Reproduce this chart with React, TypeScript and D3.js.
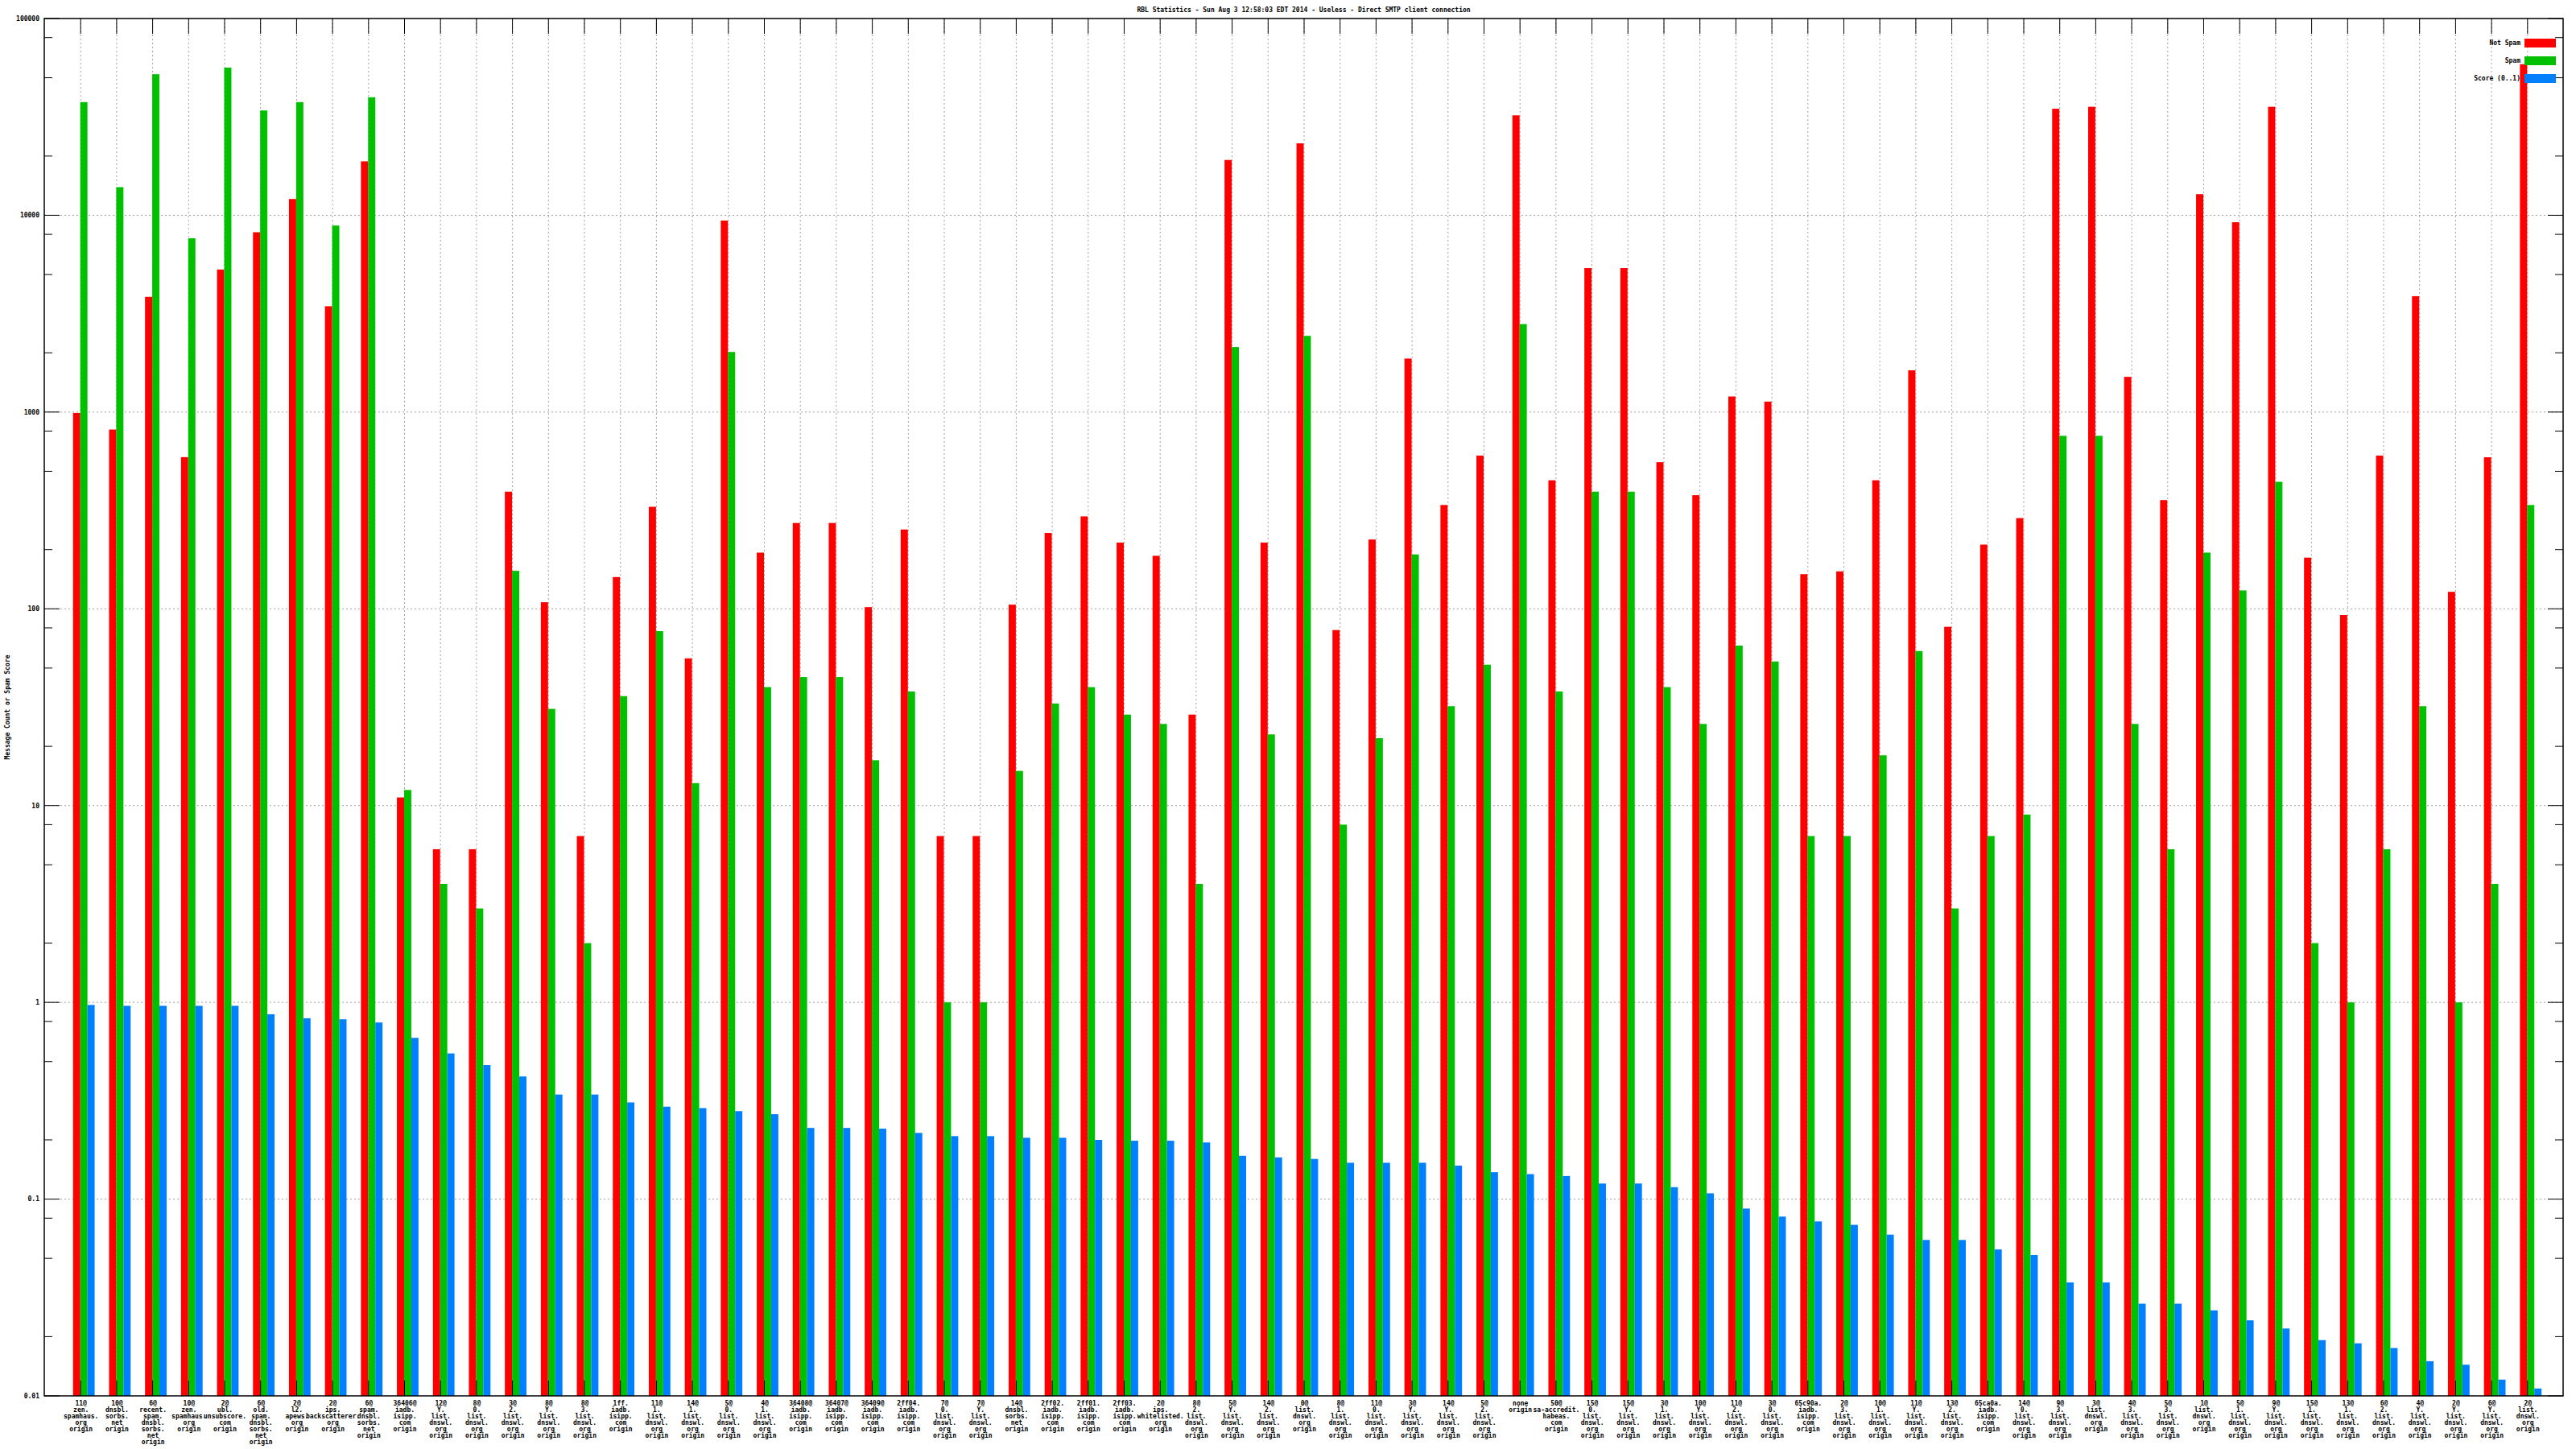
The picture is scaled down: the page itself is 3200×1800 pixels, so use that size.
import React from "react";
import * as d3 from "d3";

const TITLE = "RBL Statistics - Sun Aug  3 12:58:03 EDT 2014 - Useless - Direct SMTP client connection";
const Y_LABEL = "Message Count or Spam Score";
const SERIES = ["Not Spam", "Spam", "Score (0..1)"];
const COLORS = ["#ff0000", "#00c000", "#0080ff"];
const Y_TICKS = [0.01, 0.1, 1, 10, 100, 1000, 10000, 100000];
const Y_TICK_LABELS = ["0.01", "0.1", "1", "10", "100", "1000", "10000", "100000"];

const categories = [
  "11@\nzen.\nspamhaus.\norg\norigin",
  "10@\ndnsbl.\nsorbs.\nnet\norigin",
  "6@\nrecent.\nspam.\ndnsbl.\nsorbs.\nnet\norigin",
  "10@\nzen.\nspamhaus.\norg\norigin",
  "2@\nubl.\nunsubscore.\ncom\norigin",
  "6@\nold.\nspam.\ndnsbl.\nsorbs.\nnet\norigin",
  "2@\nl2.\napews.\norg\norigin",
  "2@\nips.\nbackscatterer.\norg\norigin",
  "6@\nspam.\ndnsbl.\nsorbs.\nnet\norigin",
  "36406@\niadb.\nisipp.\ncom\norigin",
  "12@\nY.\nlist.\ndnswl.\norg\norigin",
  "8@\n0.\nlist.\ndnswl.\norg\norigin",
  "3@\n2.\nlist.\ndnswl.\norg\norigin",
  "8@\nY.\nlist.\ndnswl.\norg\norigin",
  "8@\n3.\nlist.\ndnswl.\norg\norigin",
  "1ff.\niadb.\nisipp.\ncom\norigin",
  "11@\n1.\nlist.\ndnswl.\norg\norigin",
  "14@\n1.\nlist.\ndnswl.\norg\norigin",
  "5@\n0.\nlist.\ndnswl.\norg\norigin",
  "4@\n1.\nlist.\ndnswl.\norg\norigin",
  "36408@\niadb.\nisipp.\ncom\norigin",
  "36407@\niadb.\nisipp.\ncom\norigin",
  "36409@\niadb.\nisipp.\ncom\norigin",
  "2ff04.\niadb.\nisipp.\ncom\norigin",
  "7@\n0.\nlist.\ndnswl.\norg\norigin",
  "7@\nY.\nlist.\ndnswl.\norg\norigin",
  "14@\ndnsbl.\nsorbs.\nnet\norigin",
  "2ff02.\niadb.\nisipp.\ncom\norigin",
  "2ff01.\niadb.\nisipp.\ncom\norigin",
  "2ff03.\niadb.\nisipp.\ncom\norigin",
  "2@\nips.\nwhitelisted.\norg\norigin",
  "8@\n2.\nlist.\ndnswl.\norg\norigin",
  "5@\nY.\nlist.\ndnswl.\norg\norigin",
  "14@\n2.\nlist.\ndnswl.\norg\norigin",
  "0@\nlist.\ndnswl.\norg\norigin",
  "8@\n1.\nlist.\ndnswl.\norg\norigin",
  "11@\n0.\nlist.\ndnswl.\norg\norigin",
  "3@\nY.\nlist.\ndnswl.\norg\norigin",
  "14@\nY.\nlist.\ndnswl.\norg\norigin",
  "5@\n2.\nlist.\ndnswl.\norg\norigin",
  "none\norigin",
  "50@\nsa-accredit.\nhabeas.\ncom\norigin",
  "15@\n0.\nlist.\ndnswl.\norg\norigin",
  "15@\nY.\nlist.\ndnswl.\norg\norigin",
  "3@\n1.\nlist.\ndnswl.\norg\norigin",
  "10@\nY.\nlist.\ndnswl.\norg\norigin",
  "11@\n2.\nlist.\ndnswl.\norg\norigin",
  "3@\n0.\nlist.\ndnswl.\norg\norigin",
  "65c90a.\niadb.\nisipp.\ncom\norigin",
  "2@\n3.\nlist.\ndnswl.\norg\norigin",
  "10@\n1.\nlist.\ndnswl.\norg\norigin",
  "11@\nY.\nlist.\ndnswl.\norg\norigin",
  "13@\n2.\nlist.\ndnswl.\norg\norigin",
  "65ca0a.\niadb.\nisipp.\ncom\norigin",
  "14@\n0.\nlist.\ndnswl.\norg\norigin",
  "9@\n3.\nlist.\ndnswl.\norg\norigin",
  "3@\nlist.\ndnswl.\norg\norigin",
  "4@\n3.\nlist.\ndnswl.\norg\norigin",
  "5@\n3.\nlist.\ndnswl.\norg\norigin",
  "1@\nlist.\ndnswl.\norg\norigin",
  "5@\n1.\nlist.\ndnswl.\norg\norigin",
  "9@\nY.\nlist.\ndnswl.\norg\norigin",
  "15@\n1.\nlist.\ndnswl.\norg\norigin",
  "13@\n1.\nlist.\ndnswl.\norg\norigin",
  "6@\n2.\nlist.\ndnswl.\norg\norigin",
  "4@\nY.\nlist.\ndnswl.\norg\norigin",
  "2@\nY.\nlist.\ndnswl.\norg\norigin",
  "6@\nY.\nlist.\ndnswl.\norg\norigin",
  "2@\nlist.\ndnswl.\norg\norigin",
];

const notSpam = [
  990, 815, 3850, 590, 5300, 8200, 12100, 3450, 18800, 11,
  6, 6, 394, 108, 7, 145, 330, 56, 9400, 193,
  273, 273, 102, 253, 7, 7, 105, 243, 295, 217,
  186, 29, 19100, 217, 23200, 78, 225, 1870, 337, 601,
  32200, 450, 5390, 5390, 556, 378, 1200, 1130, 150, 155,
  450, 1630, 81, 212, 289, 34800, 35600, 1510, 357, 12800,
  9220, 35600, 182, 93, 601, 3880, 122, 589, 58600,
];

const spam = [
  37600, 13900, 52100, 7640, 56300, 34100, 37600, 8870, 39800, 12,
  4, 3, 156, 31, 2, 36, 77, 13, 2020, 40,
  45, 45, 17, 38, 1, 1, 15, 33, 40, 29,
  26, 4, 2140, 23, 2440, 8, 22, 189, 32, 52,
  2800, 38, 394, 394, 40, 26, 65, 54, 7, 7,
  18, 61, 3, 7, 9, 757, 757, 26, 6, 193,
  124, 442, 2, 1, 6, 32, 1, 4, 337,
];

const score = [
  0.97, 0.96, 0.96, 0.96, 0.96, 0.87, 0.83, 0.82, 0.79, 0.66,
  0.55, 0.48, 0.42, 0.34, 0.34, 0.31, 0.295, 0.29, 0.28, 0.27,
  0.23, 0.23, 0.228, 0.217, 0.209, 0.209, 0.205, 0.205, 0.2, 0.198,
  0.198, 0.194, 0.166, 0.163, 0.16, 0.153, 0.153, 0.153, 0.148, 0.137,
  0.134, 0.131, 0.12, 0.12, 0.115, 0.107, 0.0895, 0.0815, 0.077, 0.074,
  0.066, 0.062, 0.062, 0.0555, 0.052, 0.0377, 0.0377, 0.0294, 0.0294, 0.0272,
  0.0242, 0.022, 0.0192, 0.0185, 0.0175, 0.015, 0.0144, 0.0121, 0.0109,
];

const FONT = "'DejaVu Sans Mono', monospace";

export default function App() {
  const W = 3200, H = 1800;
  const left = 55, right = 3184, top = 23, bottom = 1734;
  const n = categories.length;
  const x = d3.scaleLinear().domain([-1, n]).range([left, right]);
  const y = d3.scaleLog().domain([0.01, 100000]).range([bottom, top]);
  const unit = x(1) - x(0);
  const bw = unit * 0.2;
  const seriesData = [notSpam, spam, score];

  const minorTicks: number[] = [];
  for (let e = -2; e < 5; e++) {
    [2, 5, 8].forEach((m) => minorTicks.push(m * Math.pow(10, e)));
  }

  return (
    <svg width={W} height={H} style={{ position: "absolute", left: 0, top: 0, background: "#fff" }}
      fontFamily={FONT} fontSize={8} fontWeight="bold">
      <rect x={0} y={0} width={W} height={H} fill="#fff" />
      {/* grid */}
      {Y_TICKS.slice(1, -1).map((t) => (
        <line key={"gy" + t} x1={left} x2={right} y1={y(t)} y2={y(t)} stroke="#a0a0a0" strokeWidth={1} strokeDasharray="2,3" />
      ))}
      {categories.map((c, i) => (
        <line key={"gx" + i} x1={x(i) + 0.5} x2={x(i) + 0.5} y1={top} y2={bottom} stroke="#a0a0a0" strokeWidth={1} strokeDasharray="2,3" />
      ))}
      {/* bars */}
      {seriesData.map((arr, s) =>
        arr.map((v, i) => (
          <rect key={"b" + s + "-" + i} x={x(i) + (s - 1) * bw} y={y(v)} width={bw} height={bottom - y(v)} fill={COLORS[s]} />
        ))
      )}
      {/* y ticks */}
      {Y_TICKS.map((t) => (
        <g key={"yt" + t}>
          <line x1={left} x2={left + 19} y1={y(t)} y2={y(t)} stroke="#000" />
          <line x1={right} x2={right - 19} y1={y(t)} y2={y(t)} stroke="#000" />
        </g>
      ))}
      {minorTicks.map((t) => (
        <g key={"ymt" + t}>
          <line x1={left} x2={left + 10} y1={y(t)} y2={y(t)} stroke="#000" />
          <line x1={right} x2={right - 10} y1={y(t)} y2={y(t)} stroke="#000" />
        </g>
      ))}
      {Y_TICKS.map((t, k) => (
        <text key={"yl" + t} x={49} y={y(t)} dy="0.35em" textAnchor="end">{Y_TICK_LABELS[k]}</text>
      ))}
      {/* x ticks */}
      {categories.map((c, i) => (
        <g key={"xt" + i}>
          <line x1={x(i) + 0.5} x2={x(i) + 0.5} y1={top} y2={top + 19} stroke="#000" />
          <line x1={x(i) + 0.5} x2={x(i) + 0.5} y1={bottom} y2={bottom - 19} stroke="#000" />
        </g>
      ))}
      {categories.map((c, i) => (
        <text key={"xl" + i} x={x(i) + 1} y={1743} textAnchor="middle">
          {c.split("\n").map((ln, j) => (
            <tspan key={j} x={x(i) + 1} y={1743 + j * 8} dy="0.35em">{ln}</tspan>
          ))}
        </text>
      ))}
      {/* frame */}
      <rect x={left} y={top} width={right - left} height={bottom - top} fill="none" stroke="#000" strokeWidth={1.5} />
      {/* title */}
      <text x={(left + right) / 2} y={12} dy="0.35em" textAnchor="middle">{TITLE}</text>
      {/* y label */}
      <text transform={`translate(9, ${(top + bottom) / 2}) rotate(-90)`} textAnchor="middle" dy="0.35em">{Y_LABEL}</text>
      {/* legend */}
      {SERIES.map((s, k) => (
        <g key={"lg" + k}>
          <text x={3131} y={53 + k * 22} dy="0.35em" textAnchor="end">{s}</text>
          <rect x={3136} y={48 + k * 22} width={39} height={11} fill={COLORS[k]} />
        </g>
      ))}
    </svg>
  );
}
